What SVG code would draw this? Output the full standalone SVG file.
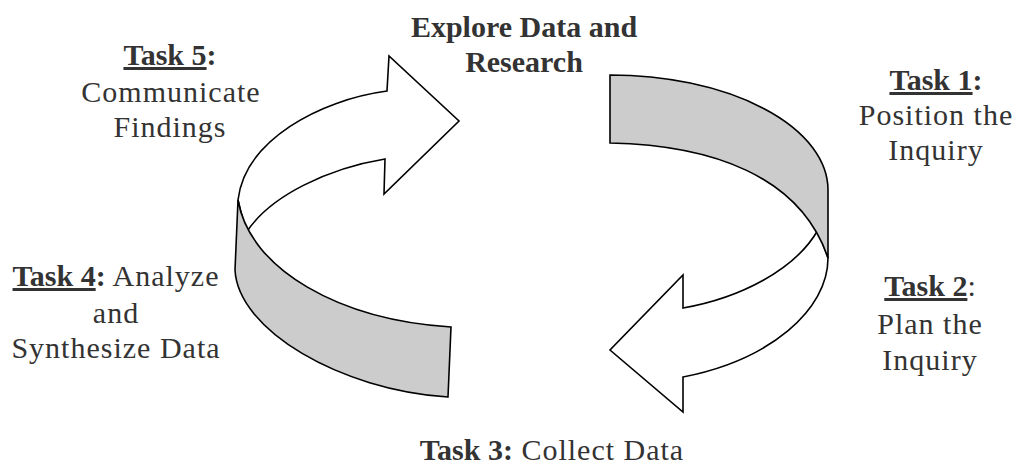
<svg xmlns="http://www.w3.org/2000/svg" width="1014" height="466" viewBox="0 0 1014 466">
<style>
.arrow{fill:#ffffff;stroke:#000;stroke-width:1.6;stroke-linejoin:miter}
.band{fill:#cccccc;stroke:#000;stroke-width:1.6;stroke-linejoin:miter}
text{font-family:"Liberation Serif","Times New Roman",serif;font-size:30px;fill:#333333;text-anchor:middle}
.r{letter-spacing:1px}
.b{font-weight:bold}
.u{text-decoration:underline}
</style>
<rect width="1014" height="466" fill="#ffffff"/>
<g id="connectors">
  <g id="arrow-right">
    <path class="arrow" d="M828,258 C828,310 770,360 683,377 L683,412 L610,350 L683,275 L683,308 C740,298 795,270 818,230 L828,258 Z"/>
    <path class="band" d="M610,75 A218,115 0 0 1 828,190 L828,258 C800,175 710,145 610,143 Z"/>
  </g>
  <g id="arrow-left">
    <path class="arrow" d="M385,159 C330,168 270,195 246,233 L238,200 C245,140 320,100 387,91 L389,56 L459,121 L384,194 Z"/>
    <path class="band" d="M238,200 L235,270 C238,330 340,390 448,397 L451,327 C340,320 250,270 238,200 Z"/>
  </g>
</g>
<g id="explore">
  <text x="524" y="37" class="b">Explore Data and</text>
  <text x="524" y="72" class="b">Research</text>
</g>
<g id="task1">
  <text x="936" y="90"><tspan class="b u">Task 1</tspan><tspan class="b">:</tspan></text>
  <text x="936" y="125" class="r">Position the</text>
  <text x="936" y="160" class="r">Inquiry</text>
</g>
<g id="task2">
  <text x="930" y="296"><tspan class="b u">Task 2</tspan><tspan>:</tspan></text>
  <text x="930" y="334" class="r">Plan the</text>
  <text x="930" y="370" class="r">Inquiry</text>
</g>
<g id="task3">
  <text x="552" y="460"><tspan class="b">Task 3:</tspan><tspan class="r"> Collect Data</tspan></text>
</g>
<g id="task4">
  <text x="116" y="286"><tspan class="b u">Task 4</tspan><tspan class="b">:</tspan><tspan class="r"> Analyze</tspan></text>
  <text x="116" y="323" class="r">and</text>
  <text x="116" y="358" class="r">Synthesize Data</text>
</g>
<g id="task5">
  <text x="170" y="65"><tspan class="b u">Task 5</tspan><tspan class="b">:</tspan></text>
  <text x="171" y="102" class="r">Communicate</text>
  <text x="170" y="137" class="r">Findings</text>
</g>
</svg>
